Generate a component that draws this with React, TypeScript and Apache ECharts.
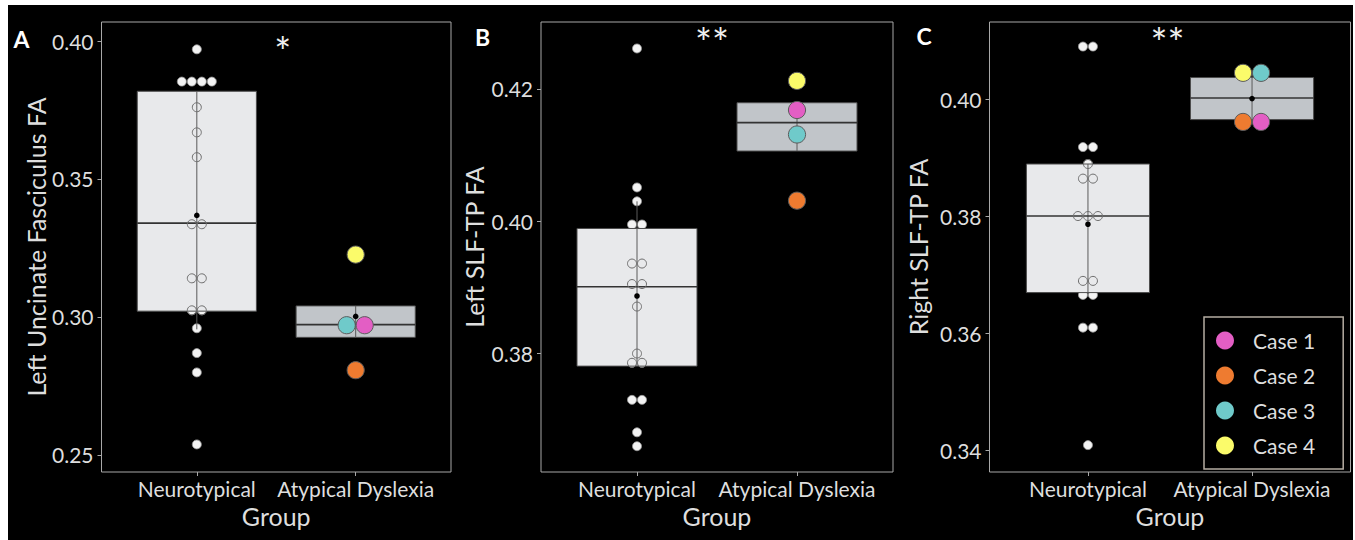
import React, { useEffect, useRef } from "react";
import * as echarts from "echarts";

// ---------- data ----------
const GROUPS = ["Neurotypical", "Atypical Dyslexia"];
const CASE_NAMES = ["Case 1", "Case 2", "Case 3", "Case 4"];
const CASE_COLORS = ["#e35ec4", "#ee7b30", "#6fcaca", "#fbfb6a"];

// Panel A: Left Uncinate Fasciculus FA
const A_NT_DOTS = [0.397, 0.3853, 0.3853, 0.3853, 0.3853, 0.376, 0.3669, 0.3579, 0.3336, 0.3336, 0.314, 0.314, 0.3024, 0.3024, 0.2959, 0.2869, 0.2799, 0.2538];
const A_NT_BOX = [0.2955, 0.3021, 0.334, 0.3818, 0.3818]; // low, q1, median, q3, high
const A_AD_BOX = [0.2926, 0.2926, 0.2972, 0.304, 0.304];
const A_MEANS = [0.3368, 0.3002];
const A_CASES = [0.297, 0.2807, 0.297, 0.3226];
const A_TICKS = [0.25, 0.3, 0.35, 0.4];
const A_RANGE = [0.2438, 0.4069];

// Panel B: Left SLF-TP FA
const B_NT_DOTS = [0.4261, 0.4051, 0.403, 0.3995, 0.3995, 0.3936, 0.3936, 0.3905, 0.3905, 0.3871, 0.38, 0.3786, 0.3786, 0.373, 0.373, 0.3681, 0.366];
const B_NT_BOX = [0.3781, 0.3781, 0.3901, 0.3989, 0.403];
const B_AD_BOX = [0.4106, 0.4106, 0.4149, 0.4179, 0.4179];
const B_MEANS = [0.3887, 0.4136];
const B_CASES = [0.4168, 0.4031, 0.4131, 0.4212];
const B_TICKS = [0.38, 0.4, 0.42];
const B_RANGE = [0.3621, 0.4301];

// Panel C: Right SLF-TP FA
const C_NT_DOTS = [0.4091, 0.4091, 0.3919, 0.3919, 0.389, 0.3865, 0.3865, 0.3801, 0.3801, 0.3801, 0.369, 0.369, 0.3666, 0.3666, 0.361, 0.361, 0.3409];
const C_NT_BOX = [0.367, 0.367, 0.3801, 0.389, 0.389];
const C_AD_BOX = [0.3962, 0.3966, 0.4003, 0.4038, 0.4046];
const C_MEANS = [0.3787, 0.4002];
const C_CASES = [0.3962, 0.3962, 0.4046, 0.4046];
const C_TICKS = [0.34, 0.36, 0.38, 0.4];
const C_RANGE = [0.3363, 0.4133];

const Y_TITLES = ["Left Uncinate Fasciculus FA", "Left SLF-TP FA", "Right SLF-TP FA"];
const LETTERS = ["A", "B", "C"];
const SIGNIF = ["*", "**", "**"];
const X_TITLE = "Group";

// ---------- layout ----------
const OX = 8;
const OY = 5;
const FONT = "Lato, 'Open Sans', sans-serif";
const TEXT = "#dedede";

const PANELS = [
  { nt: A_NT_DOTS, ntBox: A_NT_BOX, adBox: A_AD_BOX, means: A_MEANS, cases: A_CASES, ticks: A_TICKS, range: A_RANGE, left: 101.5, width: 349.5, nameGap: 53, letter: [21.5, 38.5], star: [282.7, 52] },
  { nt: B_NT_DOTS, ntBox: B_NT_BOX, adBox: B_AD_BOX, means: B_MEANS, cases: B_CASES, ticks: B_TICKS, range: B_RANGE, left: 541, width: 352, nameGap: 55, letter: [482.5, 36.5], star: [712, 43] },
  { nt: C_NT_DOTS, ntBox: C_NT_BOX, adBox: C_AD_BOX, means: C_MEANS, cases: C_CASES, ticks: C_TICKS, range: C_RANGE, left: 989.5, width: 361, nameGap: 59.5, letter: [924, 36], star: [1167.5, 43] },
];
const GRID_TOP = 22;
const GRID_H = 450;

function stackOffsets(values: number[], reverse = false): number[] {
  return values.map((v, i) => {
    const same: number[] = [];
    values.forEach((w, j) => {
      if (Math.abs(w - v) < 1e-9) same.push(j);
    });
    const ordered = reverse ? same.slice().reverse() : same;
    return ordered.indexOf(i) - (same.length - 1) / 2;
  });
}

function buildOption() {
  const grid: any[] = [];
  const xAxis: any[] = [];
  const yAxis: any[] = [];
  const series: any[] = [];
  const graphic: any[] = [];

  PANELS.forEach((p, pi) => {
    grid.push({
      left: p.left - OX,
      top: GRID_TOP - OY,
      width: p.width,
      height: GRID_H,
      show: true,
      borderColor: "#a8a8a8",
      borderWidth: 1,
      backgroundColor: "transparent",
    });
    xAxis.push({
      type: "value",
      gridIndex: pi,
      min: 0.4,
      max: 2.6,
      axisLine: { show: false },
      splitLine: { show: false },
      axisTick: { show: true, customValues: [1, 2], length: 4, lineStyle: { color: "#a8a8a8" } },
      axisLabel: {
        customValues: [1, 2],
        formatter: (v: number) => GROUPS[Math.round(v) - 1] ?? "",
        color: TEXT,
        fontSize: 21,
        fontFamily: FONT,
        margin: 6,
      },
      name: X_TITLE,
      nameLocation: "middle",
      nameGap: 31,
      nameTextStyle: { color: TEXT, fontSize: 25, fontFamily: FONT },
    });
    yAxis.push({
      type: "value",
      gridIndex: pi,
      min: p.range[0],
      max: p.range[1],
      axisLine: { show: false },
      splitLine: { show: false },
      axisTick: { show: true, customValues: p.ticks, length: 4, lineStyle: { color: "#a8a8a8" } },
      axisLabel: {
        customValues: p.ticks,
        formatter: (v: number) => v.toFixed(2),
        color: TEXT,
        fontSize: 21,
        fontFamily: FONT,
        margin: 8,
      },
      name: Y_TITLES[pi],
      nameLocation: "middle",
      nameGap: p.nameGap,
      nameTextStyle: { color: TEXT, fontSize: 25, fontFamily: FONT },
    });

    const ntOff = stackOffsets(p.nt);
    const dotData = p.nt.map((v, i) => [1, v, ntOff[i]]);
    const q1 = p.ntBox[1];
    const q3 = p.ntBox[3];
    const hollowData = dotData.filter((d) => d[1] >= q1 - 1e-6 && d[1] <= q3 + 1e-6);

    // white dots
    series.push({
      type: "custom",
      xAxisIndex: pi,
      yAxisIndex: pi,
      z: 2,
      silent: true,
      encode: { x: 0, y: 1 },
      data: dotData,
      renderItem: (params: any, api: any) => {
        const c = api.coord([api.value(0), api.value(1)]);
        return {
          type: "circle",
          shape: { cx: c[0] + api.value(2) * 10, cy: c[1], r: 4.5 },
          style: { fill: "#f3f3f3", stroke: "#9c9c9c", lineWidth: 0.8 },
        };
      },
    });

    // boxes
    const boxData = [
      [1, ...p.ntBox, 0],
      [2, ...p.adBox, 1],
    ];
    series.push({
      type: "custom",
      xAxisIndex: pi,
      yAxisIndex: pi,
      z: 3,
      silent: true,
      encode: { x: 0, y: [1, 2, 3, 4, 5] },
      data: boxData,
      renderItem: (params: any, api: any) => {
        const x = api.value(0);
        const cLow = api.coord([x, api.value(1)]);
        const cQ1 = api.coord([x, api.value(2)]);
        const cMed = api.coord([x, api.value(3)]);
        const cQ3 = api.coord([x, api.value(4)]);
        const cHigh = api.coord([x, api.value(5)]);
        const w = api.size([0.75, 0])[0];
        const fill = api.value(6) === 0 ? "#e8e9eb" : "#c1c5c9";
        return {
          type: "group",
          children: [
            {
              type: "rect",
              shape: { x: cQ1[0] - w / 2, y: cQ3[1], width: w, height: cQ1[1] - cQ3[1] },
              style: { fill, stroke: "#4d4d4d", lineWidth: 1 },
            },
            {
              type: "line",
              shape: { x1: cLow[0], y1: cLow[1], x2: cHigh[0], y2: cHigh[1] },
              style: { stroke: "#5a5a5a", lineWidth: 1 },
            },
            {
              type: "line",
              shape: { x1: cMed[0] - w / 2, y1: cMed[1], x2: cMed[0] + w / 2, y2: cMed[1] },
              style: { stroke: "#333", lineWidth: 1.6 },
            },
          ],
        };
      },
    });

    // hollow dots inside box
    series.push({
      type: "custom",
      xAxisIndex: pi,
      yAxisIndex: pi,
      z: 4,
      silent: true,
      encode: { x: 0, y: 1 },
      data: hollowData,
      renderItem: (params: any, api: any) => {
        const c = api.coord([api.value(0), api.value(1)]);
        return {
          type: "circle",
          shape: { cx: c[0] + api.value(2) * 10, cy: c[1], r: 4.5 },
          style: { fill: "none", stroke: "#6e6e6e", lineWidth: 1 },
        };
      },
    });

    // means
    series.push({
      type: "custom",
      xAxisIndex: pi,
      yAxisIndex: pi,
      z: 5,
      silent: true,
      encode: { x: 0, y: 1 },
      data: p.means.map((m, i) => [i + 1, m]),
      renderItem: (params: any, api: any) => {
        const c = api.coord([api.value(0), api.value(1)]);
        return { type: "circle", shape: { cx: c[0], cy: c[1], r: 2.8 }, style: { fill: "#000" } };
      },
    });

    // cases
    const caseOff = stackOffsets(p.cases, true);
    p.cases.forEach((v, ci) => {
      series.push({
        type: "custom",
        name: CASE_NAMES[ci],
        xAxisIndex: pi,
        yAxisIndex: pi,
        z: 6,
        encode: { x: 0, y: 1 },
        itemStyle: { color: CASE_COLORS[ci] },
        data: [[2, v, caseOff[ci]]],
        renderItem: (params: any, api: any) => {
          const c = api.coord([api.value(0), api.value(1)]);
          return {
            type: "circle",
            shape: { cx: c[0] + api.value(2) * 18, cy: c[1], r: 8.6 },
            style: { fill: CASE_COLORS[ci], stroke: "#5c5c5c", lineWidth: 1 },
          };
        },
      });
    });

    graphic.push({
      type: "text",
      x: p.letter[0] - OX,
      y: p.letter[1] - OY,
      style: {
        text: LETTERS[pi],
        fill: "#ffffff",
        fontSize: 23,
        fontWeight: "bold",
        fontFamily: FONT,
        align: "center",
        verticalAlign: "middle",
        textAlign: "center",
        textVerticalAlign: "middle",
      },
    });
    graphic.push({
      type: "text",
      x: p.star[0] - OX,
      y: p.star[1] - OY,
      style: {
        text: SIGNIF[pi],
        fill: "#eeeeee",
        fontSize: 40,
        fontFamily: FONT,
        align: "center",
        verticalAlign: "middle",
        textAlign: "center",
        textVerticalAlign: "middle",
      },
    });
  });

  return {
    animation: false,
    backgroundColor: "#000000",
    grid,
    xAxis,
    yAxis,
    series,
    graphic,
    legend: {
      data: CASE_NAMES.map((n, i) => ({ name: n, icon: "circle", itemStyle: { color: CASE_COLORS[i] } })),
      orient: "vertical",
      left: 1204 - OX,
      top: 317 - OY,
      itemWidth: 18,
      itemHeight: 18,
      itemGap: 14,
      padding: [13, 28, 13, 12],
      borderColor: "#b5ada2",
      borderWidth: 1.5,
      selectedMode: false,
      textStyle: { color: TEXT, fontSize: 21, fontFamily: FONT, lineHeight: 20, padding: [0, 0, 0, 14] },
    },
  };
}

export default function App() {
  const ref = useRef<HTMLDivElement>(null);
  useEffect(() => {
    if (!ref.current) return;
    const chart = echarts.init(ref.current, undefined, { renderer: "svg" });
    chart.setOption(buildOption() as any);
    return () => chart.dispose();
  }, []);
  return (
    <div style={{ position: "absolute", left: 0, top: 0, width: 1355, height: 540, background: "#fff" }}>
      <div ref={ref} style={{ position: "absolute", left: OX, top: OY, width: 1345, height: 535 }} />
    </div>
  );
}
